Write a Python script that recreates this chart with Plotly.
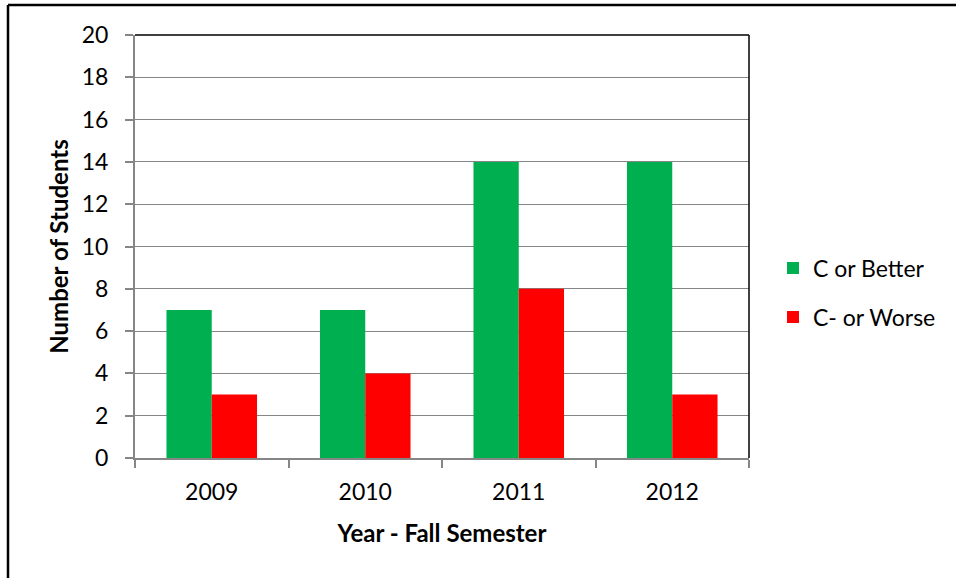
import plotly.graph_objects as go

years = ["2009", "2010", "2011", "2012"]
c_or_better = [7, 7, 14, 14]
c_minus_or_worse = [3, 4, 8, 3]
y_ticks = [0, 2, 4, 6, 8, 10, 12, 14, 16, 18, 20]

FONT = "Lato, Carlito, Calibri, sans-serif"
W, H = 956, 578
L, R, T, B = 135, 749, 35, 458
pw, ph = R - L, B - T

def px(x):
    return (x - L) / pw

def py(y):
    return (B - y) / ph

fig = go.Figure()
fig.add_trace(go.Bar(x=years, y=c_or_better, name="C or Better",
                     marker=dict(color="#00B050", line=dict(width=0)),
                     legend="legend", showlegend=True))
fig.add_trace(go.Bar(x=years, y=c_minus_or_worse, name="C- or Worse",
                     marker=dict(color="#FF0000", line=dict(width=0)),
                     legend="legend2", showlegend=True))

grey = "#868686"
FS = 23
fig.update_layout(
    width=W, height=H,
    margin=dict(l=L, r=W - R, t=T, b=H - B),
    paper_bgcolor="white", plot_bgcolor="white",
    barmode="group", bargap=0.41, bargroupgap=0,
    showlegend=True,
    font=dict(family=FONT, size=FS, color="black"),
    xaxis=dict(
        showline=True, linecolor=grey, linewidth=2,
        ticks="outside", ticklen=8, tickcolor=grey, tickwidth=1.5,
        tickson="boundaries", showgrid=False,
        tickfont=dict(size=FS), ticklabelstandoff=12,
        title=dict(text="<b>Year - Fall Semester</b>", font=dict(size=24), standoff=22),
    ),
    yaxis=dict(
        range=[0, 20], tickvals=y_ticks,
        showline=True, linecolor=grey, linewidth=2,
        ticks="outside", ticklen=8, tickcolor=grey, tickwidth=1.5,
        showgrid=True, gridcolor=grey, gridwidth=1.2,
        zeroline=False,
        tickfont=dict(size=FS), ticklabelstandoff=12,
        title=dict(text="<b>Number of Students</b>", font=dict(size=24), standoff=6),
    ),
    legend=dict(x=px(773), y=py(268), xanchor="left", yanchor="middle",
                font=dict(size=FS), bgcolor="rgba(0,0,0,0)", itemwidth=30),
    legend2=dict(x=px(773), y=py(317), xanchor="left", yanchor="middle",
                 font=dict(size=FS), bgcolor="rgba(0,0,0,0)", itemwidth=30),
    shapes=[
        # plot area top and right borders
        dict(type="line", xref="paper", yref="paper", x0=0, x1=1, y0=1, y1=1,
             line=dict(color="black", width=1.5)),
        dict(type="line", xref="paper", yref="paper", x0=1, x1=1, y0=0, y1=1,
             line=dict(color="black", width=1.5)),
        # outer frame (top and left)
        dict(type="line", xref="paper", yref="paper", x0=px(8), x1=px(W + 5),
             y0=py(5), y1=py(5), line=dict(color="black", width=2.5)),
        dict(type="line", xref="paper", yref="paper", x0=px(8), x1=px(8),
             y0=py(5), y1=py(H + 5), line=dict(color="black", width=2.5)),
    ],
)

fig.write_html("out.html", config={"displayModeBar": False},
               post_script="document.body.style.margin='0';document.body.style.overflow='hidden';")
